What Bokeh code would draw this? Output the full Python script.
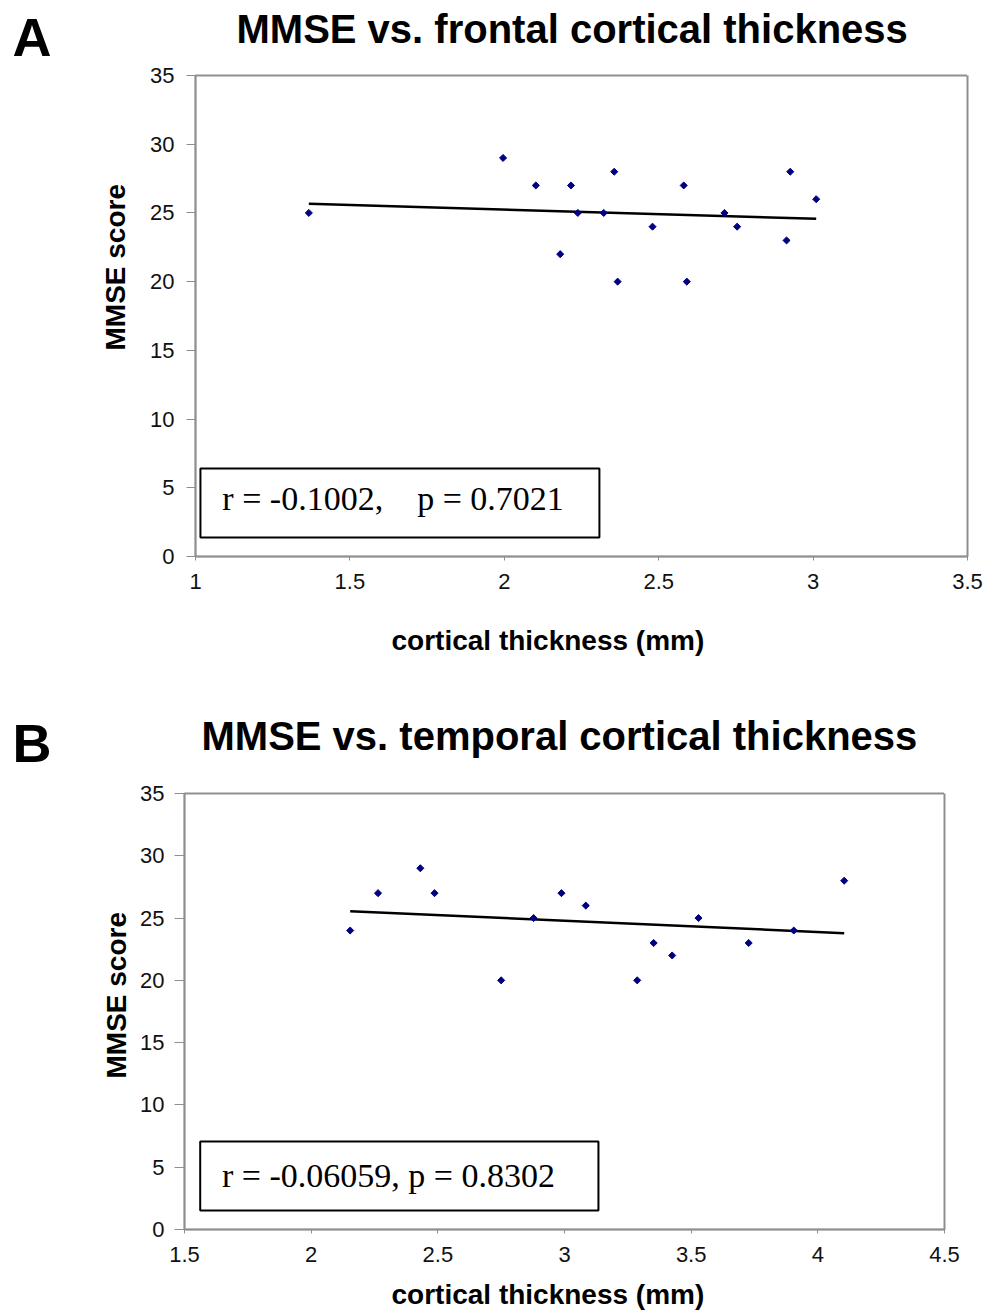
from math import pi
from bokeh.plotting import figure
from bokeh.models import Label, BoxAnnotation, FixedTicker, Range1d, Title, LinearAxis
from bokeh.embed import file_html
from bokeh.resources import INLINE

# ---------------- data ----------------
# Panel A: MMSE vs. frontal cortical thickness
a_thickness = [1.367, 1.996, 2.102, 2.181, 2.216, 2.238, 2.322, 2.356, 2.367,
               2.480, 2.581, 2.591, 2.713, 2.754, 2.914, 2.926, 3.010]
a_mmse = [25, 29, 27, 22, 27, 25, 25, 28, 20, 24, 27, 20, 25, 24, 23, 28, 26]
a_trend_x = [1.367, 3.010]
a_trend_y = [25.67, 24.57]

# Panel B: MMSE vs. temporal cortical thickness
b_thickness = [2.154, 2.264, 2.431, 2.487, 2.750, 2.878, 2.988, 3.084, 3.287,
               3.352, 3.425, 3.529, 3.727, 3.905, 4.104]
b_mmse = [24, 27, 29, 27, 20, 25, 27, 26, 20, 23, 22, 25, 23, 24, 28]
b_trend_x = [2.154, 4.104]
b_trend_y = [25.55, 23.79]

x_ticks_a = [1, 1.5, 2, 2.5, 3, 3.5]
x_ticks_b = [1.5, 2, 2.5, 3, 3.5, 4, 4.5]
y_ticks = [0, 5, 10, 15, 20, 25, 30, 35]

title_a = "MMSE vs. frontal cortical thickness"
title_b = "MMSE vs. temporal cortical thickness"
stats_a = "r = -0.1002,\u00a0\u00a0\u00a0\u00a0p = 0.7021"
stats_b = "r = -0.06059, p = 0.8302"
x_title = "cortical thickness (mm)"
y_title = "MMSE score"

SANS = "Liberation Sans"
SERIF = "Liberation Serif"
AXIS_GRAY = "#8f8f8f"


def gap(px, at):
    """Blank axis (one white tick, hidden label) that only reserves about px pixels."""
    return LinearAxis(ticker=FixedTicker(ticks=[at], minor_ticks=[]),
                      axis_line_color=None,
                      major_tick_line_color="white", major_tick_line_width=1,
                      major_tick_in=0, major_tick_out=int(round(max(px - 1, 0))),
                      minor_tick_in=0, minor_tick_out=0,
                      major_label_standoff=0, major_label_text_font_size="1px",
                      major_label_text_alpha=0)


def make_panel(xs, ys, tx, ty, xr, xticks, fw, fh, bl, br, bt, bb,
               ytick_out, ystand,
               top_gap, letter, letter_off, letter_stand, title, title_off, title_stand,
               ytitle_off, ytitle_stand, bottom_gap, xtitle_off,
               stats, box, stats_pos):
    p = figure(frame_width=fw, frame_height=fh,
               min_border_left=bl, min_border_right=br,
               min_border_top=bt, min_border_bottom=bb,
               x_range=Range1d(*xr), y_range=Range1d(0, 35),
               output_backend="svg", toolbar_location=None)
    p.xgrid.visible = False
    p.ygrid.visible = False
    p.outline_line_color = AXIS_GRAY
    p.outline_line_width = 2
    p.outline_line_alpha = 1
    p.background_fill_color = "white"
    p.border_fill_color = "white"

    p.xaxis.ticker = FixedTicker(ticks=xticks, minor_ticks=[])
    p.yaxis.ticker = FixedTicker(ticks=y_ticks, minor_ticks=[])
    p.xaxis.major_label_overrides = {t: f"{t:g}" for t in xticks}
    p.yaxis.major_label_overrides = {t: f"{t:g}" for t in y_ticks}
    for ax in (p.xaxis, p.yaxis):
        ax.axis_line_color = AXIS_GRAY
        ax.axis_line_width = 1.5
        ax.major_tick_line_color = AXIS_GRAY
        ax.major_tick_line_width = 1
        ax.major_tick_in = 0
        ax.minor_tick_in = 0
        ax.minor_tick_out = 0
        ax.major_label_text_font = SANS
        ax.major_label_text_font_size = "22px"
        ax.major_label_text_color = "#111111"
    p.xaxis.major_tick_out = 4
    p.xaxis.major_label_standoff = 13
    p.yaxis.major_tick_out = ytick_out
    p.yaxis.major_label_standoff = ystand

    # regression line and points
    p.line(tx, ty, line_color="black", line_width=2.5)
    p.scatter(xs, ys, marker="square", angle=pi / 4, size=5,
              fill_color="#000080", line_color="#000080")

    # statistics box
    p.add_layout(BoxAnnotation(left=box[0], right=box[1], bottom=box[2], top=box[3],
                               fill_color="white", fill_alpha=1,
                               line_color="black", line_alpha=1, line_width=2))
    p.add_layout(Label(x=stats_pos[0], y=stats_pos[1], text=stats,
                       text_font=SERIF, text_font_size="34px",
                       text_baseline="middle", text_align="left",
                       text_color="black"))

    # panel letter and chart title (above, innermost first)
    p.add_layout(gap(top_gap, xr[1]), "above")
    p.add_layout(Title(text=letter, text_font=SANS, text_font_size="54px",
                       text_font_style="bold", text_color="black",
                       align="left", offset=letter_off, standoff=letter_stand,
                       vertical_align="middle"), "above")
    p.add_layout(Title(text=title, text_font=SANS, text_font_size="40px",
                       text_font_style="bold", text_color="black",
                       align="left", offset=title_off, standoff=title_stand,
                       vertical_align="middle"), "above")

    # y axis title (left)
    p.add_layout(Title(text=y_title, text_font=SANS, text_font_size="28px",
                       text_font_style="bold", text_color="black",
                       align="left", offset=ytitle_off, standoff=ytitle_stand,
                       vertical_align="bottom"), "left")

    # x axis title (below)
    p.add_layout(gap(bottom_gap, xr[1]), "below")
    p.add_layout(Title(text=x_title, text_font=SANS, text_font_size="28px",
                       text_font_style="bold", text_color="black",
                       align="left", offset=xtitle_off, standoff=0,
                       vertical_align="top"), "below")
    return p


pa = make_panel(a_thickness, a_mmse, a_trend_x, a_trend_y, (1, 3.5), x_ticks_a,
                772, 481, 195, 23, 75, 114,
                9, 12,
                36, "A", -183, -54.2, title_a, 41, -38.6,
                206, 33, 34, 196,
                stats_a, (1.016, 2.308, 1.38, 6.41), (1.087, 4.22))

pb = make_panel(b_thickness, b_mmse, b_trend_x, b_trend_y, (1.5, 4.5), x_ticks_b,
                760, 436, 184, 46, 123, 85,
                10, 10,
                48, "B", -172, -55.0, title_b, 17, -39.4,
                151, 11, 15, 207,
                stats_b, (1.562, 3.134, 1.53, 7.06), (1.648, 4.33))

open("out.html", "w").write(file_html([pa, pb], INLINE))
